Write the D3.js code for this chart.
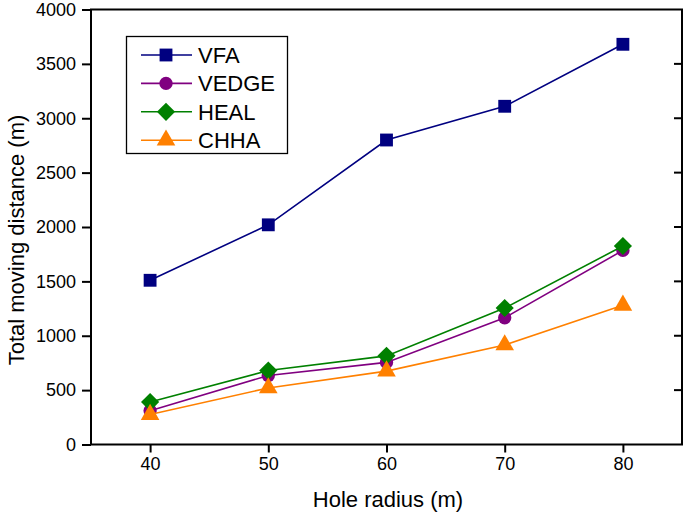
<!DOCTYPE html>
<html>
<head>
<meta charset="utf-8">
<script src="https://cdn.jsdelivr.net/npm/d3@7"></script>
<style>
  body { margin: 0; background: #fff; }
  svg { font-family: "Liberation Sans", Arial, sans-serif; }
</style>
</head>
<body>
<svg id="chart" width="685" height="516"></svg>
<script>
// data
const radius = [40, 50, 60, 70, 80];
const vfa = [1510, 2020, 2800, 3110, 3680];
const vedge = [310, 635, 755, 1165, 1785];
const heal = [390, 680, 815, 1255, 1825];
const chha = [275, 520, 675, 915, 1280];
const yTicks = [0, 500, 1000, 1500, 2000, 2500, 3000, 3500, 4000];

// diamond = square turned 45 degrees
const series = [
  { name: "VFA", values: vfa, color: "#000080", shape: d3.symbolSquare, size: 165, rot: 0 },
  { name: "VEDGE", values: vedge, color: "#800080", shape: d3.symbolCircle, size: 140, rot: 0 },
  { name: "HEAL", values: heal, color: "#008000", shape: d3.symbolSquare, size: 165, rot: 45 },
  { name: "CHHA", values: chha, color: "#FF8000", shape: d3.symbolTriangle, size: 150, rot: 0 },
];

const svg = d3.select("#chart");
const margin = { top: 9.5, right: 3, bottom: 71.5, left: 91 };
const width = 685, height = 516;

const x = d3.scaleLinear().domain([35, 85]).range([margin.left, width - margin.right]);
const y = d3.scaleLinear().domain([0, 4000]).range([height - margin.bottom, margin.top]);

// frame
svg.append("rect")
  .attr("x", x(35)).attr("y", y(4000))
  .attr("width", x(85) - x(35)).attr("height", y(0) - y(4000))
  .attr("fill", "none").attr("stroke", "#000").attr("stroke-width", 2);

// bottom axis
const xAxis = svg.append("g")
  .attr("transform", `translate(0,${y(0)})`)
  .call(d3.axisBottom(x).tickValues(radius).tickSize(8).tickPadding(5).tickSizeOuter(0));
xAxis.select(".domain").remove();
xAxis.selectAll("line").attr("stroke-width", 2);
xAxis.selectAll("text").attr("font-size", 18).attr("font-family", "Liberation Sans, Arial, sans-serif").attr("fill", "#000");

// left axis
const yAxis = svg.append("g")
  .attr("transform", `translate(${x(35)},0)`)
  .call(d3.axisLeft(y).tickValues(yTicks).tickFormat(d3.format("d")).tickSize(9).tickPadding(6).tickSizeOuter(0));
yAxis.select(".domain").remove();
yAxis.selectAll("line").attr("stroke-width", 2);
yAxis.selectAll("text").attr("font-size", 18).attr("font-family", "Liberation Sans, Arial, sans-serif").attr("fill", "#000");

// right inner ticks
svg.append("g")
  .selectAll("line")
  .data(yTicks.slice(1, -1))
  .join("line")
  .attr("x1", x(85) - 8).attr("x2", x(85))
  .attr("y1", d => y(d)).attr("y2", d => y(d))
  .attr("stroke", "#000").attr("stroke-width", 2);

// lines and markers
const line = d3.line().x((d, i) => x(radius[i])).y(d => y(d));
series.forEach(s => {
  svg.append("path")
    .datum(s.values)
    .attr("d", line)
    .attr("fill", "none")
    .attr("stroke", s.color)
    .attr("stroke-width", 1.6);
  svg.append("g")
    .selectAll("path")
    .data(s.values)
    .join("path")
    .attr("transform", (d, i) => `translate(${x(radius[i])},${y(d)}) rotate(${s.rot})`)
    .attr("d", d3.symbol().type(s.shape).size(s.size))
    .attr("fill", s.color);
});

// legend
const legend = svg.append("g");
legend.append("rect")
  .attr("x", 126.5).attr("y", 36.5).attr("width", 161).attr("height", 117)
  .attr("fill", "#fff").attr("stroke", "#000").attr("stroke-width", 1.3);
series.forEach((s, i) => {
  const ly = 55 + i * 28.4;
  legend.append("line")
    .attr("x1", 141).attr("x2", 192).attr("y1", ly).attr("y2", ly)
    .attr("stroke", s.color).attr("stroke-width", 1.6);
  legend.append("path")
    .attr("transform", `translate(166,${ly}) rotate(${s.rot})`)
    .attr("d", d3.symbol().type(s.shape).size(s.size))
    .attr("fill", s.color);
  legend.append("text")
    .attr("x", 198).attr("y", ly + 8)
    .attr("font-size", 22)
    .text(s.name);
});

// axis titles
svg.append("text")
  .attr("x", 388).attr("y", 507)
  .attr("text-anchor", "middle")
  .attr("font-size", 22)
  .text("Hole radius (m)");

svg.append("text")
  .attr("transform", "translate(24,240) rotate(-90)")
  .attr("text-anchor", "middle")
  .attr("font-size", 22)
  .text("Total moving distance (m)");
</script>
</body>
</html>
